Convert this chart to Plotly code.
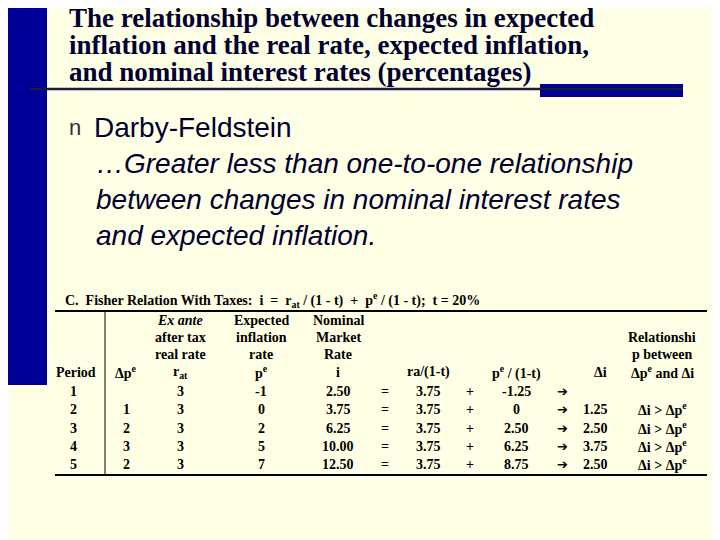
import plotly.graph_objects as go

periods = ["1", "2", "3", "4", "5"]
d_pe = ["", "1", "2", "3", "2"]
r_at = ["3", "3", "3", "3", "3"]
p_e = ["-1", "0", "2", "5", "7"]
nominal = ["2.50", "3.75", "6.25", "10.00", "12.50"]
ra_term = ["3.75", "3.75", "3.75", "3.75", "3.75"]
pe_term = ["-1.25", "0", "2.50", "6.25", "8.75"]
d_i = ["", "1.25", "2.50", "3.75", "2.50"]
relation = ["", "Δi > Δp<sup>e</sup>", "Δi > Δp<sup>e</sup>", "Δi > Δp<sup>e</sup>", "Δi > Δp<sup>e</sup>"]

W, H = 720, 540
OFF = 8
fig = go.Figure()
fig.update_layout(width=W, height=H, margin=dict(l=0, r=0, t=0, b=0),
                  paper_bgcolor="#FFFFE6", plot_bgcolor="#FFFFE6",
                  xaxis=dict(visible=False, range=[OFF, W + OFF]), yaxis=dict(visible=False, range=[H + OFF, OFF]),
                  showlegend=False)

def rect(x0, y0, x1, y1, color):
    fig.add_shape(type="rect", xref="x", yref="y", x0=x0, y0=y0, x1=x1, y1=y1,
                  fillcolor=color, line_width=0, layer="below")

def line(x0, y0, x1, y1, w=1.5, color="black"):
    fig.add_shape(type="line", xref="x", yref="y", x0=x0, y0=y0, x1=x1, y1=y1,
                  line=dict(color=color, width=w))

def text(x, y, s, size=14, anchor="center", family="Liberation Serif", color="black", bold=True, italic=False):
    if not s:
        return
    if bold:
        s = "<b>" + s + "</b>"
    if italic:
        s = "<i>" + s + "</i>"
    fig.add_annotation(x=x, y=y, xref="x", yref="y", text=s, showarrow=False,
                       xanchor=anchor, yanchor="middle", align=anchor if anchor != "center" else "center",
                       font=dict(size=size, family=family, color=color))

rect(-10, -10, 47, 385, "#000099")
line(30, 89, 683, 89, w=2.5, color="#1A1A40")
rect(540, 84, 683, 97, "#000099")

title_lines = ["The relationship between changes in expected",
               "inflation and the real rate, expected inflation,",
               "and nominal interest rates (percentages)"]
for k, t in enumerate(title_lines):
    text(67, 18 + 27 * k, t, size=27, anchor="left", color="#000033")

text(67, 127, "n", size=22, anchor="left", family="Liberation Sans", color="#333333", bold=False)
text(92, 127, "Darby-Feldstein", size=28, anchor="left", family="Liberation Sans", color="#000033", bold=False)
body = ["…Greater less than one-to-one relationship",
        "between changes in nominal interest rates",
        "and expected inflation."]
for k, t in enumerate(body):
    text(94, 163 + 36 * k, t, size=28, anchor="left", family="Liberation Sans", color="#000033", bold=False, italic=True)

text(63, 300, "C.  Fisher Relation With Taxes:  i  =  r<sub>at</sub> / (1 - t)  +  p<sup>e</sup> / (1 - t);  t = 20%",
     size=14, anchor="left")
line(55, 311, 707, 311, w=2)
line(105, 311, 105, 475, w=1)
line(55, 475, 707, 475, w=2)

hdr_y = [320, 337, 354, 372]
headers = [
    (76, ["", "", "", "Period"]),
    (126, ["", "", "", "Δp<sup>e</sup>"]),
    (180, ["<i>Ex ante</i>", "after tax", "real rate", "r<sub>at</sub>"]),
    (261, ["Expected", "inflation", "rate", "p<sup>e</sup>"]),
    (338, ["Nominal", "Market", "Rate", "i"]),
    (428, ["", "", "", "ra/(1-t)"]),
    (516, ["", "", "", "p<sup>e</sup> / (1-t)"]),
    (600, ["", "", "", "Δi"]),
    (662, ["", "Relationshi", "p between", "Δp<sup>e</sup> and Δi"]),
]
for x, rows in headers:
    for y, s in zip(hdr_y, rows):
        text(x, y, s, size=14)

row_y = [391, 409, 428, 446, 464]
for k in range(5):
    y = row_y[k]
    text(73, y, periods[k])
    text(126, y, d_pe[k])
    text(180, y, r_at[k])
    text(261, y, p_e[k])
    text(338, y, nominal[k])
    text(385, y, "=")
    text(428, y, ra_term[k])
    text(470, y, "+")
    text(516, y, pe_term[k])
    text(562, y, "➔", size=13, family="DejaVu Sans")
    text(595, y, d_i[k])
    text(662, y, relation[k])

fig.write_html("out.html")
